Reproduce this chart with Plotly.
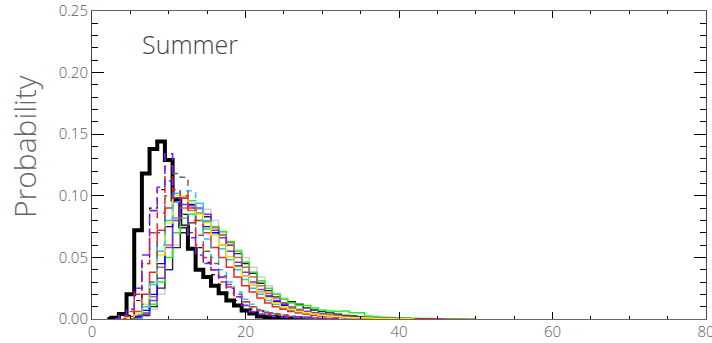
import plotly.graph_objects as go

# ---- data: histogram probabilities, bins of width 1 centred on integers ----
obs_start = 2
obs = [0, 0.001, 0.004, 0.02, 0.072, 0.118, 0.138, 0.144, 0.129, 0.097, 0.075, 0.057,
       0.040, 0.034, 0.027, 0.021, 0.015, 0.011, 0.007, 0.0045, 0.002, 0.0015, 0.001,
       0.001, 0.0008, 0.0006, 0.0004, 0]

purple_dash_start = 3
purple_dash = [0, 0.003, 0.008, 0.025, 0.052, 0.088, 0.107, 0.134, 0.098, 0.085, 0.066,
               0.052, 0.045, 0.040, 0.034, 0.025, 0.018, 0.011, 0.006, 0.004, 0.003,
               0.002, 0.0015, 0.001, 0.001, 0.0008, 0.0005, 0.0004, 0.0003, 0.0002, 0]

red_dash_start = 3
red_dash = [0, 0.002, 0.006, 0.02, 0.045, 0.07, 0.086, 0.124, 0.105, 0.100, 0.080, 0.060,
            0.050, 0.040, 0.030, 0.026, 0.018, 0.014, 0.010, 0.007, 0.005, 0.004, 0.003,
            0.002, 0.0015, 0.001, 0.0008, 0.0005, 0.0003, 0]

gray_dash_start = 5
gray_dash = [0, 0.003, 0.012, 0.03, 0.07, 0.10, 0.118, 0.115, 0.090, 0.068, 0.055,
             0.045, 0.035, 0.028, 0.020, 0.014, 0.010, 0.007, 0.005, 0.004, 0.003,
             0.002, 0.0015, 0.001, 0.0008, 0.0005, 0]

cyan_dash_start = 6
cyan_dash = [0, 0.01, 0.03, 0.06, 0.08, 0.095, 0.104, 0.104, 0.080, 0.065, 0.050, 0.040,
             0.030, 0.022, 0.016, 0.012, 0.008, 0.006, 0.0045, 0.0035, 0.0025, 0.002,
             0.0015, 0.001, 0.0007, 0.0005, 0]

black_dash_start = 4
black_dash = [0, 0.003, 0.015, 0.045, 0.09, 0.105, 0.112, 0.098, 0.085, 0.070, 0.058,
              0.046, 0.036, 0.028, 0.021, 0.015, 0.011, 0.008, 0.006, 0.004, 0.003,
              0.002, 0.0015, 0.001, 0.0006, 0]

yellow_start = 4
yellow = [0, 0.001, 0.004, 0.012, 0.03, 0.052, 0.078, 0.100, 0.100, 0.095, 0.085, 0.078,
          0.068, 0.060, 0.050, 0.042, 0.035, 0.028, 0.022, 0.017, 0.013, 0.010, 0.008,
          0.006, 0.005, 0.004, 0.003, 0.0025, 0.002, 0.0015, 0.001, 0.001, 0.0008,
          0.0006, 0.0005, 0.0004, 0.0003, 0.0002, 0]

red_start = 4
red = [0, 0.002, 0.006, 0.02, 0.038, 0.072, 0.090, 0.098, 0.098, 0.090, 0.080, 0.070,
       0.058, 0.050, 0.042, 0.034, 0.027, 0.022, 0.017, 0.013, 0.010, 0.008, 0.006,
       0.005, 0.004, 0.003, 0.0025, 0.002, 0.0015, 0.001, 0.001, 0.0008, 0.0006,
       0.0005, 0.0004, 0.0003, 0.0003, 0.0002, 0.0002, 0.0001, 0.0001, 0]

cyan_start = 5
cyan = [0, 0.003, 0.010, 0.028, 0.055, 0.080, 0.102, 0.100, 0.096, 0.094, 0.080, 0.068,
        0.057, 0.048, 0.040, 0.032, 0.025, 0.020, 0.015, 0.012, 0.009, 0.007, 0.005,
        0.004, 0.003, 0.0025, 0.002, 0.0015, 0.001, 0.0008, 0.0006, 0.0005, 0.0004,
        0.0003, 0.0002, 0.0002, 0.0001, 0]

blue_start = 5
blue = [0, 0.002, 0.007, 0.020, 0.045, 0.075, 0.095, 0.098, 0.093, 0.085, 0.075, 0.070,
        0.060, 0.050, 0.043, 0.035, 0.028, 0.022, 0.018, 0.014, 0.011, 0.008, 0.006,
        0.005, 0.004, 0.003, 0.0025, 0.002, 0.0015, 0.0012, 0.001, 0.0008, 0.0006,
        0.0005, 0.0004, 0.0003, 0.0002, 0.0002, 0.0001, 0]

purple_start = 5
purple = [0, 0.001, 0.004, 0.015, 0.033, 0.058, 0.080, 0.093, 0.092, 0.090, 0.085, 0.072,
          0.066, 0.055, 0.046, 0.038, 0.030, 0.024, 0.019, 0.015, 0.012, 0.009, 0.007,
          0.006, 0.005, 0.004, 0.003, 0.0025, 0.002, 0.0015, 0.0012, 0.001, 0.0008,
          0.0007, 0.0006, 0.0005, 0.0004, 0.0003, 0.0002, 0.0002, 0.0001, 0]

brown_start = 5
brown = [0, 0.001, 0.005, 0.018, 0.042, 0.060, 0.082, 0.090, 0.088, 0.086, 0.079, 0.074,
         0.068, 0.062, 0.050, 0.042, 0.034, 0.027, 0.021, 0.017, 0.013, 0.010, 0.008,
         0.006, 0.005, 0.004, 0.003, 0.0025, 0.002, 0.0015, 0.0012, 0.001, 0.0008,
         0.0007, 0.0006, 0.0005, 0.0004, 0.0003, 0.0003, 0.0002, 0.0002, 0.0002,
         0.0001, 0.0001, 0.0001, 0]

green_start = 5
green = [0, 0.001, 0.004, 0.012, 0.030, 0.050, 0.070, 0.082, 0.085, 0.080, 0.073, 0.075,
         0.071, 0.063, 0.055, 0.046, 0.038, 0.031, 0.025, 0.020, 0.016, 0.013, 0.011,
         0.011, 0.009, 0.0073, 0.0065, 0.006, 0.0065, 0.005, 0.005, 0.0024, 0.002,
         0.0015, 0.0012, 0.001, 0.0008, 0.0007, 0.0005, 0.0004, 0.0003, 0.0002,
         0.0002, 0.0001, 0]

black_thin_start = 5
black_thin = [0, 0.001, 0.003, 0.010, 0.025, 0.040, 0.058, 0.070, 0.078, 0.085, 0.083,
              0.075, 0.068, 0.060, 0.053, 0.045, 0.037, 0.029, 0.023, 0.018, 0.013,
              0.014, 0.012, 0.009, 0.0073, 0.006, 0.005, 0.004, 0.003, 0.0025, 0.002,
              0.0015, 0.001, 0.0008, 0.0006, 0.0004, 0.0003, 0.0002, 0]

lightgray_start = 6
lightgray = [0, 0.002, 0.008, 0.020, 0.040, 0.060, 0.075, 0.085, 0.089, 0.089, 0.080,
             0.070, 0.062, 0.056, 0.050, 0.042, 0.034, 0.027, 0.021, 0.017, 0.014,
             0.011, 0.009, 0.007, 0.006, 0.005, 0.004, 0.003, 0.0025, 0.002, 0.0015,
             0.001, 0.0008, 0.0006, 0.0005, 0.0003, 0]

x_tickvals = [0, 20, 40, 60, 80]
y_tickvals = [0.00, 0.05, 0.10, 0.15, 0.20, 0.25]
y_ticktext = ["0.00", "0.05", "0.10", "0.15", "0.20", "0.25"]
panel_label = "Summer"
y_title = "Probability"

FONT = "Open Sans"
TXT = "#5a5a5a"

fig = go.Figure()


def add(start, vals, color, width, dash="solid"):
    xs = list(range(start, start + len(vals)))
    fig.add_trace(go.Scatter(x=xs, y=vals, mode="lines",
                             line=dict(color=color, width=width, dash=dash, shape="hvh"),
                             showlegend=False, hoverinfo="skip"))


add(obs_start, obs, "black", 4)
add(lightgray_start, lightgray, "#cfcfcf", 1.5)
add(black_thin_start, black_thin, "#222222", 1.3)
add(green_start, green, "#22ee22", 1.5)
add(brown_start, brown, "#b07a50", 1.5)
add(purple_start, purple, "#8a2be2", 1.5)
add(blue_start, blue, "#0000ff", 1.3)
add(cyan_start, cyan, "#1ec8ff", 1.5)
add(red_start, red, "#ff2020", 1.5)
add(yellow_start, yellow, "#ffee00", 1.5)
add(black_dash_start, black_dash, "#111111", 1.2, "4px,4px")
add(cyan_dash_start, cyan_dash, "#1ec8ff", 1.5, "6px,5px")
add(gray_dash_start, gray_dash, "#666666", 1.5, "6px,5px")
add(red_dash_start, red_dash, "#ff2020", 1.5, "6px,5px")
add(purple_dash_start, purple_dash, "#7f1fff", 1.6, "8px,5px")

# invisible helper trace so the label-only bottom axis gets drawn
fig.add_trace(go.Scatter(x=[x_tickvals[0], x_tickvals[-1]], y=[0, 0], xaxis="x2",
                         mode="lines", line=dict(width=0), showlegend=False,
                         hoverinfo="skip", opacity=0))

fig.update_layout(
    width=712, height=343,
    margin=dict(l=92, r=6, t=11, b=24),
    plot_bgcolor="white",
    # tick marks: axis placed on top, mirrored to the bottom
    xaxis=dict(range=[0, 80], tickvals=x_tickvals, side="top", ticks="inside",
               ticklen=7, tickcolor="black", tickwidth=1, showline=True,
               linecolor="#666", mirror="ticks", showgrid=False,
               zeroline=False, showticklabels=False, automargin=False,
               minor=dict(dtick=5, ticks="inside", ticklen=3, tickcolor="black",
                          tickwidth=1, showgrid=False)),
    # tick labels only, at the bottom
    xaxis2=dict(range=[0, 80], tickvals=x_tickvals, overlaying="x", side="bottom",
                anchor="y", ticks="", showline=False, showgrid=False, zeroline=False,
                automargin=False, ticklabelstandoff=2, ticklabeloverflow="allow",
                tickfont=dict(size=15, color=TXT, family=FONT, weight=300)),
    yaxis=dict(range=[0, 0.25], tickvals=y_tickvals, ticktext=y_ticktext,
               ticks="inside", ticklen=12, tickcolor="black", tickwidth=1,
               showline=True, linecolor="#444", mirror="ticks",
               showgrid=False, zeroline=False, automargin=False,
               tickfont=dict(size=15, color=TXT, family=FONT, weight=300),
               ticklabeloverflow="allow",
               minor=dict(dtick=0.01, ticks="inside", ticklen=6, tickcolor="black",
                          tickwidth=1, showgrid=False)),
    annotations=[
        dict(text=panel_label, xref="paper", yref="paper",
             x=(140 - 92) / 614, y=(343 - 24 - 44) / 308, xanchor="left",
             yanchor="middle", showarrow=False,
             font=dict(size=25, color="#444", family=FONT, weight=300)),
        dict(text=y_title, xref="paper", yref="paper",
             x=(24 - 92) / 614, y=(343 - 24 - 147) / 308, xanchor="center",
             yanchor="middle", textangle=-90, showarrow=False,
             font=dict(size=30, color="#666", family=FONT, weight=300)),
    ],
)

fig.write_html("out.html")
